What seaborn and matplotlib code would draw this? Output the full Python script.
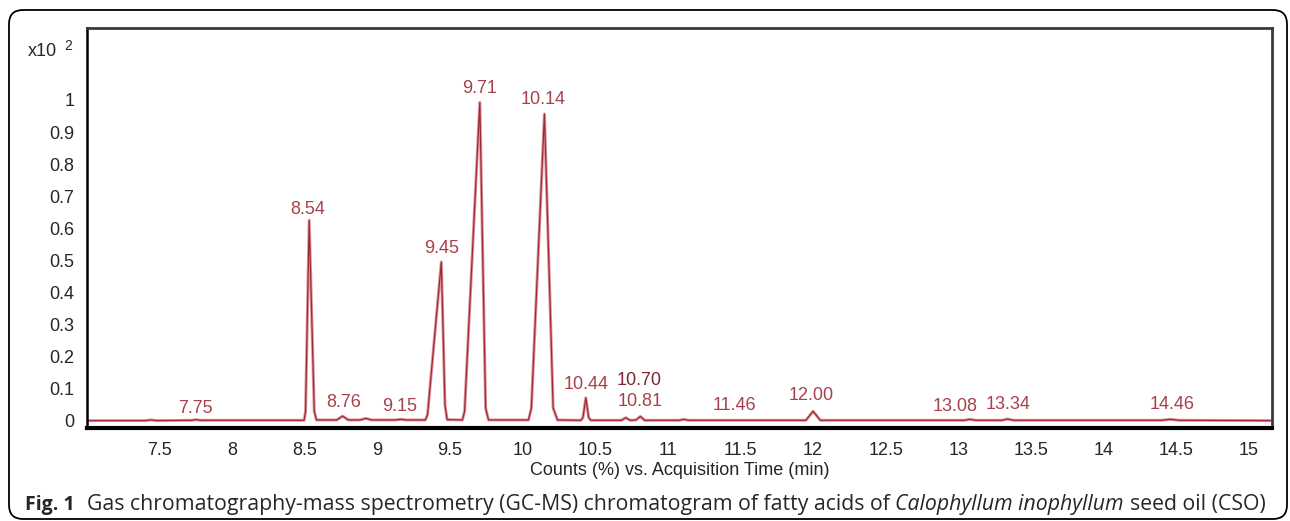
import numpy as np
import pandas as pd
import matplotlib.pyplot as plt
import seaborn as sns
from matplotlib.patches import FancyBboxPatch
from matplotlib.transforms import IdentityTransform

# chromatogram trace (retention time in min, counts x10^2)
rt = [7.00, 7.40, 7.44, 7.48, 7.72, 7.75, 7.78, 8.495, 8.505, 8.53, 8.565, 8.58,
      8.72, 8.76, 8.80, 8.88, 8.92, 8.96, 9.12, 9.16, 9.20, 9.33, 9.345, 9.44,
      9.465, 9.48, 9.585, 9.60, 9.705, 9.745, 9.765, 10.04, 10.06, 10.15, 10.21,
      10.24, 10.40, 10.415, 10.435, 10.455, 10.47, 10.68, 10.71, 10.74, 10.78,
      10.81, 10.84, 11.08, 11.11, 11.14, 11.95, 12.00, 12.05, 13.04, 13.08, 13.12,
      13.30, 13.34, 13.38, 14.40, 14.46, 14.52, 15.15]
counts = [0.001, 0.001, 0.003, 0.001, 0.002, 0.004, 0.002, 0.002, 0.03, 0.625, 0.03, 0.003,
          0.003, 0.015, 0.003, 0.003, 0.008, 0.003, 0.003, 0.005, 0.003, 0.003, 0.02, 0.495,
          0.05, 0.004, 0.003, 0.03, 0.992, 0.04, 0.003, 0.003, 0.04, 0.956, 0.04,
          0.003, 0.002, 0.01, 0.072, 0.01, 0.002, 0.002, 0.01, 0.002, 0.003,
          0.014, 0.002, 0.002, 0.005, 0.002, 0.002, 0.03, 0.002, 0.002, 0.005, 0.002,
          0.002, 0.006, 0.002, 0.002, 0.005, 0.002, 0.001]

peak_labels = ["7.75", "8.54", "8.76", "9.15", "9.45", "9.71", "10.14", "10.44",
               "10.70", "10.81", "11.46", "12.00", "13.08", "13.34", "14.46"]
label_x = [7.75, 8.52, 8.77, 9.155, 9.44, 9.70, 10.14, 10.44,
           10.80, 10.81, 11.46, 11.99, 12.98, 13.34, 14.47]
label_y = [0.040, 0.660, 0.056, 0.044, 0.536, 1.034, 1.000, 0.115,
           0.125, 0.062, 0.047, 0.078, 0.044, 0.050, 0.050]

xticks = [7.0, 7.5, 8.0, 8.5, 9.0, 9.5, 10.0, 10.5, 11.0, 11.5, 12.0, 12.5, 13.0,
          13.5, 14.0, 14.5, 15.0]
xtick_labels = ["", "7.5", "8", "8.5", "9", "9.5", "10", "10.5", "11", "11.5", "12",
                "12.5", "13", "13.5", "14", "14.5", "15"]
yticks = [0, 0.1, 0.2, 0.3, 0.4, 0.5, 0.6, 0.7, 0.8, 0.9, 1.0]
ytick_labels = ["0", "0.1", "0.2", "0.3", "0.4", "0.5", "0.6", "0.7", "0.8", "0.9", "1"]

sns.set_style("white")
plt.rcParams["font.family"] = ["Liberation Sans", "DejaVu Sans"]

W, H = 1290, 521
fig = plt.figure(figsize=(W / 100, H / 100), dpi=100)
ax = fig.add_axes([87 / W, 1 - 428 / H, (1272 - 87) / W, 400 / H])

df = pd.DataFrame({"rt": rt, "counts": counts})
sns.lineplot(data=df, x="rt", y="counts", sort=False, estimator=None,
             color="#e09aa2", lw=2.2, ax=ax)
sns.lineplot(data=df, x="rt", y="counts", sort=False, estimator=None,
             color="#9e2834", lw=0.9, ax=ax)

for lab, lx, ly in zip(peak_labels, label_x, label_y):
    c = "#7e2535" if lab == "10.70" else "#a8414b"
    ax.text(lx, ly, lab, ha="center", va="center", fontsize=13, color=c)

ax.set_xlim(7.004, 15.16)
ax.set_ylim(-0.022, 1.224)
ax.set_xticks(xticks)
ax.set_xticklabels(xtick_labels)
ax.set_yticks(yticks)
ax.set_yticklabels(ytick_labels)
ax.tick_params(axis="x", direction="out", length=8, width=1.4, labelsize=13, pad=2)
ax.tick_params(axis="y", direction="out", length=7, width=1.4, labelsize=13, pad=2)
ax.set_xlabel("Counts (%) vs. Acquisition Time (min)", fontsize=13, labelpad=2)
ax.set_ylabel("")

for side in ["top", "right"]:
    ax.spines[side].set_color("#3a3a3a")
    ax.spines[side].set_linewidth(2.0)
ax.spines["left"].set_color("black")
ax.spines["left"].set_linewidth(1.8)
ax.spines["bottom"].set_color("black")
ax.spines["bottom"].set_linewidth(3.0)

fig.text(28 / W, 1 - 51 / H, "x10", fontsize=13, va="center", ha="left")
fig.text(64 / W, 1 - 46 / H, "2", fontsize=10, va="center", ha="left")

# rounded frame around the figure
frame = FancyBboxPatch((9, 2), 1278, 509, boxstyle="round,pad=0,rounding_size=14",
                       transform=IdentityTransform(), fill=False, lw=1.3, ec="black")
fig.patches.append(frame)

# caption, pieces laid out one after another
fig.canvas.draw()
renderer = fig.canvas.get_renderer()
pieces = [("Fig. 1", "bold", "normal", 14, 12),
          ("Gas chromatography-mass spectrometry (GC-MS) chromatogram of fatty acids of", "normal", "normal", 15.3, 6),
          ("Calophyllum inophyllum", "normal", "italic", 15.3, 6),
          ("seed oil (CSO)", "normal", "normal", 15.3, 0)]
x = 25
for txt, weight, style, size, gap in pieces:
    t = fig.text(x / W, 1 - 510 / H, txt, fontweight=weight, style=style,
                 family=["Open Sans", "DejaVu Sans"], fontsize=size, va="baseline", ha="left")
    x += t.get_window_extent(renderer).width + gap

fig.savefig("out.png", dpi=100)
